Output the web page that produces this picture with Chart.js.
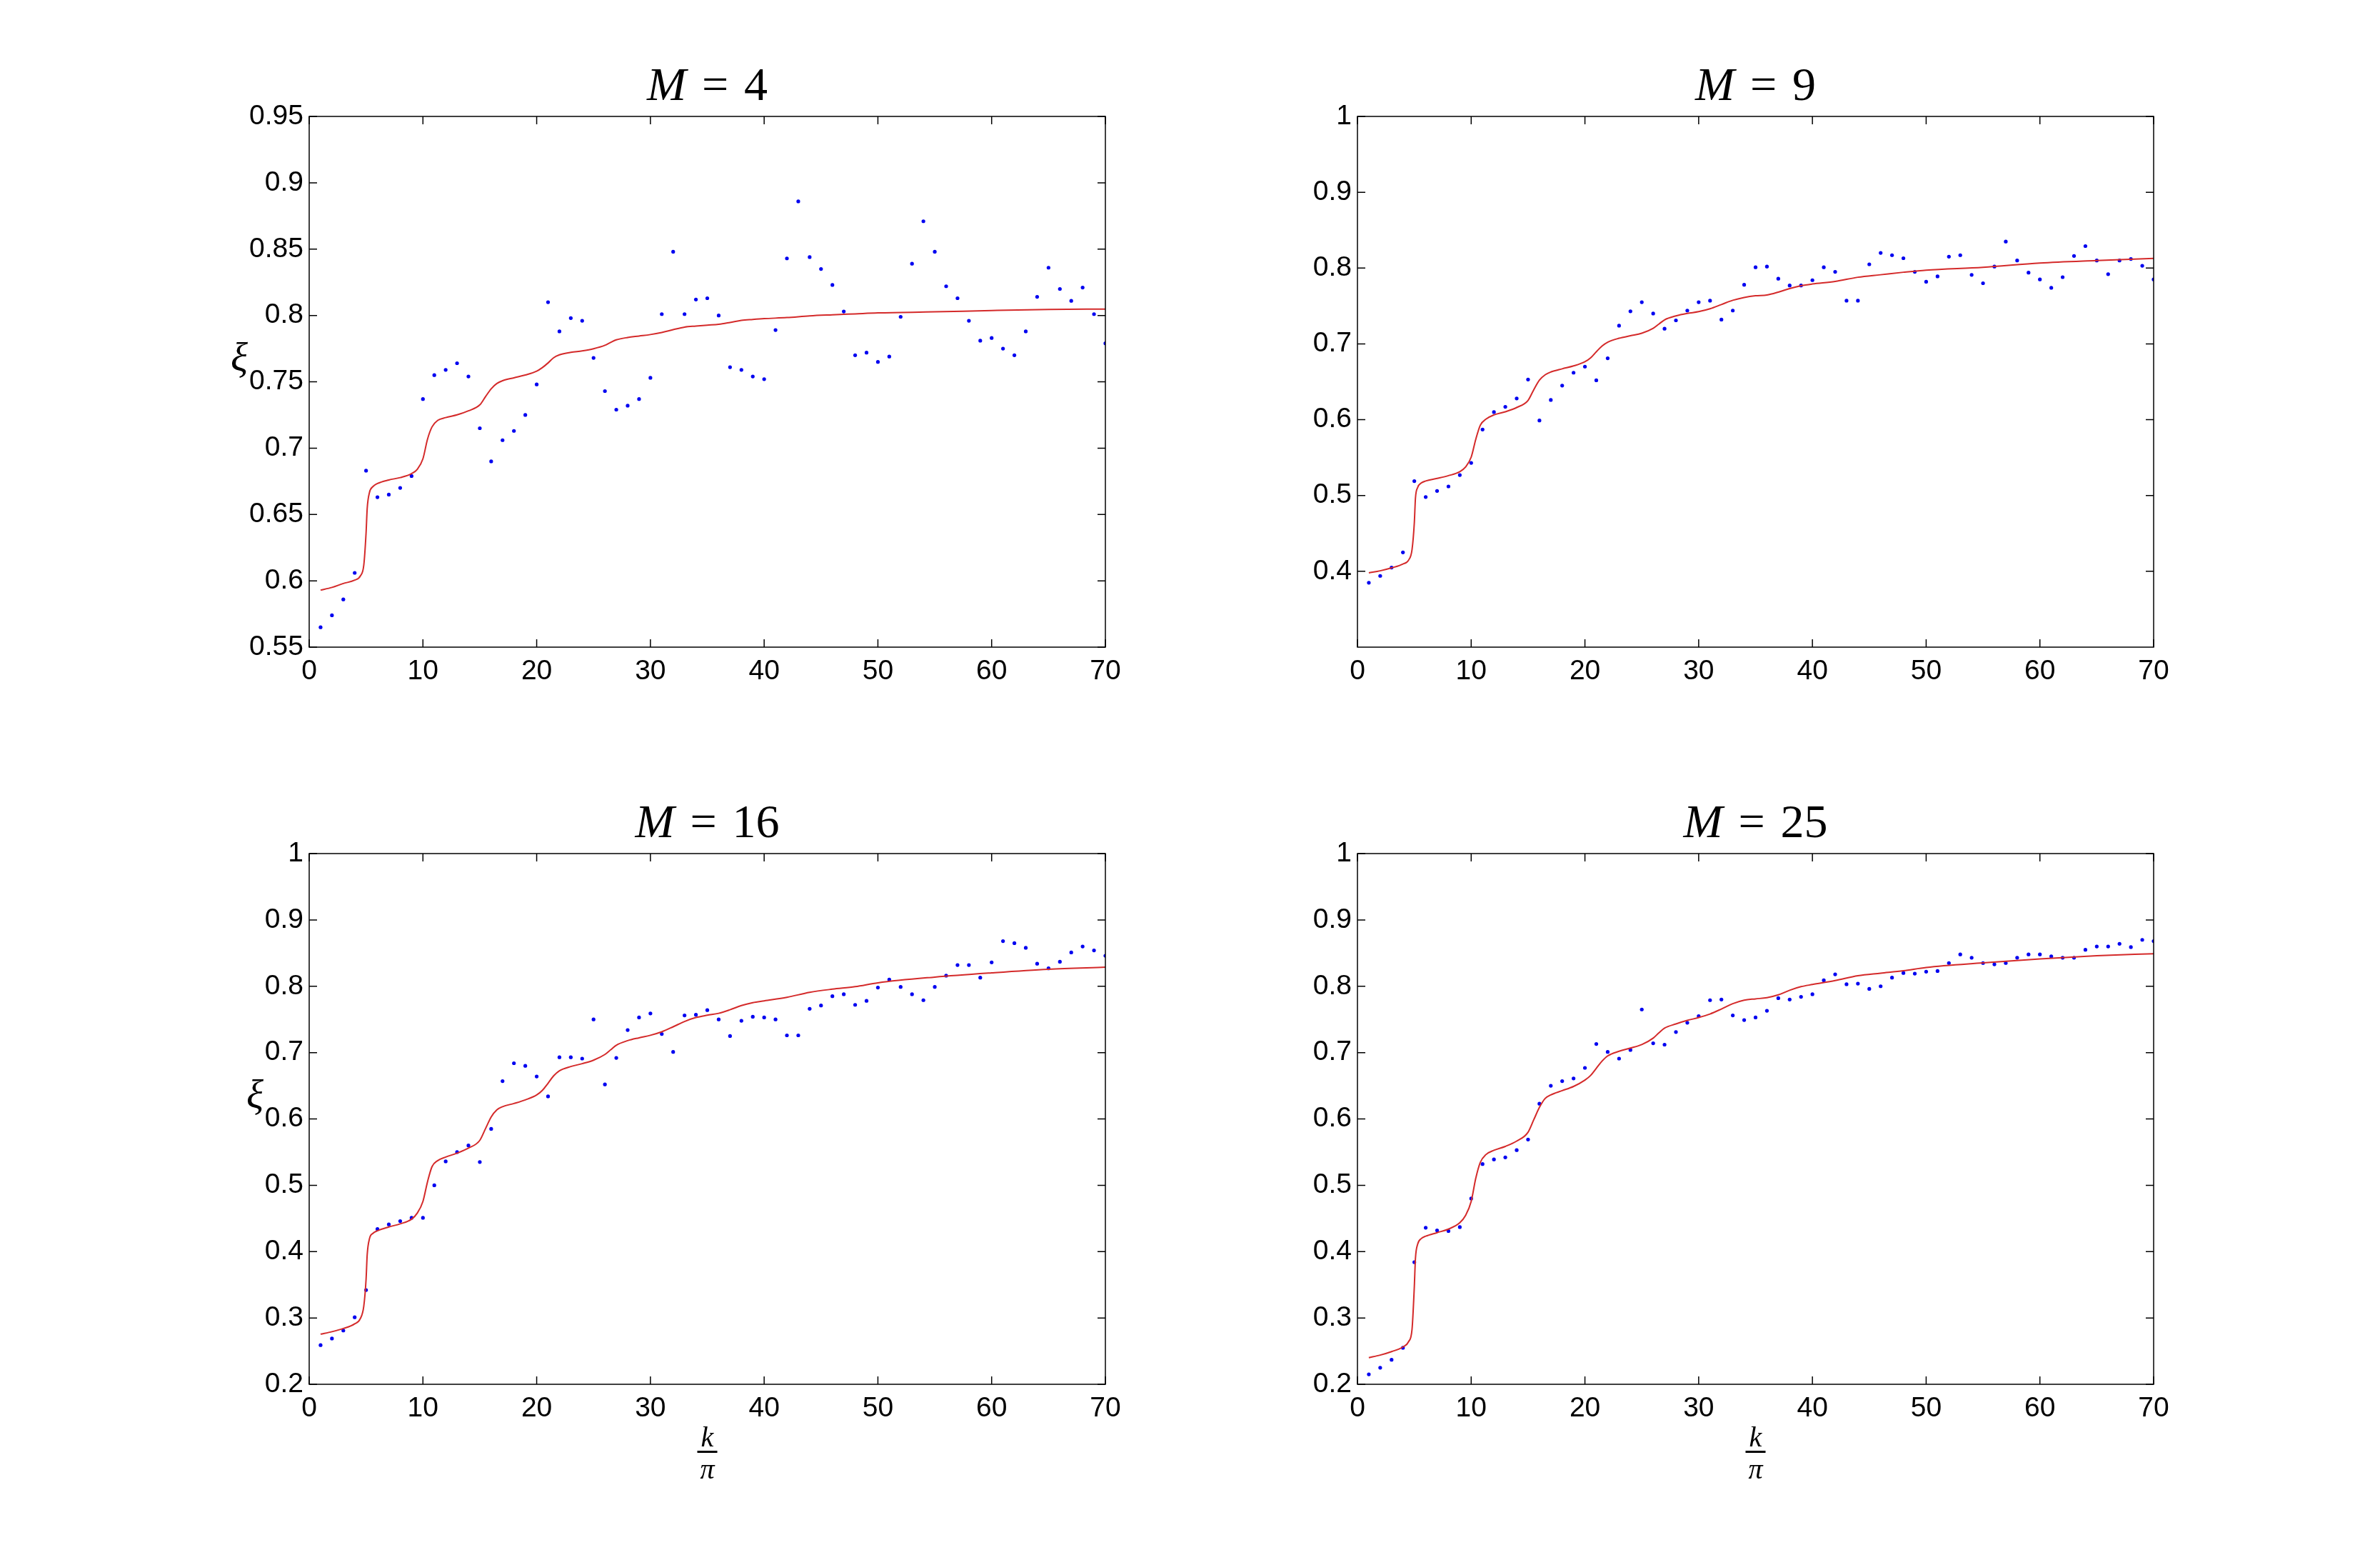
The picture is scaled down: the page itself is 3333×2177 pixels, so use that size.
<!DOCTYPE html>
<html lang="pt-BR">
<head>
<meta charset="utf-8">
<title>ξ em função de k/π</title>
<script src="https://cdn.jsdelivr.net/npm/chart.js@4.4.1/dist/chart.umd.min.js"></script>
<style>
  html, body { margin: 0; padding: 0; background: #fff; }
  body { width: 3333px; height: 2177px; position: relative; overflow: hidden; }
  canvas { position: absolute; }
</style>
</head>
<body>
<canvas id="grafico-m4"></canvas>
<canvas id="grafico-m9"></canvas>
<canvas id="grafico-m16"></canvas>
<canvas id="grafico-m25"></canvas>
<script>
// =====================================================
// DADOS — PONTOS (k/π = 1..70)
// =====================================================
const kPontos = [
  1, 2, 3, 4, 5, 6, 7, 8, 9, 10, 11, 12, 13, 14, 15, 16, 17, 18, 19, 20,
  21, 22, 23, 24, 25, 26, 27, 28, 29, 30, 31, 32, 33, 34, 35, 36, 37, 38, 39, 40,
  41, 42, 43, 44, 45, 46, 47, 48, 49, 50, 51, 52, 53, 54, 55, 56, 57, 58, 59, 60,
  61, 62, 63, 64, 65, 66, 67, 68, 69, 70
];

const xiM4 = [
  0.565, 0.574, 0.586, 0.606, 0.683, 0.663, 0.665, 0.670, 0.679, 0.737,
  0.755, 0.759, 0.764, 0.754, 0.715, 0.690, 0.706, 0.713, 0.725, 0.748,
  0.810, 0.788, 0.798, 0.796, 0.768, 0.743, 0.729, 0.732, 0.737, 0.753,
  0.801, 0.848, 0.801, 0.812, 0.813, 0.800, 0.761, 0.759, 0.754, 0.752,
  0.789, 0.843, 0.886, 0.844, 0.835, 0.823, 0.803, 0.770, 0.772, 0.765,
  0.769, 0.799, 0.839, 0.871, 0.848, 0.822, 0.813, 0.796, 0.781, 0.783,
  0.775, 0.770, 0.788, 0.814, 0.836, 0.820, 0.811, 0.821, 0.801, 0.779
];

const xiM9 = [
  0.385, 0.394, 0.405, 0.425, 0.519, 0.498, 0.506, 0.512, 0.527, 0.543,
  0.587, 0.610, 0.617, 0.628, 0.653, 0.599, 0.626, 0.645, 0.662, 0.670,
  0.652, 0.681, 0.724, 0.743, 0.755, 0.740, 0.720, 0.731, 0.744, 0.755,
  0.757, 0.732, 0.744, 0.778, 0.801, 0.802, 0.786, 0.777, 0.777, 0.784,
  0.801, 0.795, 0.757, 0.757, 0.805, 0.820, 0.817, 0.813, 0.795, 0.782,
  0.789, 0.815, 0.817, 0.791, 0.780, 0.802, 0.835, 0.810, 0.794, 0.785,
  0.774, 0.788, 0.816, 0.829, 0.810, 0.792, 0.810, 0.812, 0.803, 0.785
];

const xiM16 = [
  0.259, 0.269, 0.281, 0.301, 0.342, 0.434, 0.441, 0.446, 0.451, 0.451,
  0.500, 0.536, 0.550, 0.560, 0.535, 0.585, 0.657, 0.684, 0.680, 0.664,
  0.634, 0.693, 0.693, 0.691, 0.750, 0.652, 0.692, 0.734, 0.753, 0.759,
  0.728, 0.701, 0.756, 0.757, 0.764, 0.750, 0.725, 0.748, 0.754, 0.753,
  0.750, 0.726, 0.726, 0.766, 0.771, 0.785, 0.788, 0.772, 0.778, 0.798,
  0.810, 0.799, 0.788, 0.779, 0.799, 0.816, 0.832, 0.832, 0.813, 0.836,
  0.868, 0.865, 0.858, 0.834, 0.827, 0.837, 0.851, 0.860, 0.854, 0.846
];

const xiM25 = [
  0.215, 0.225, 0.237, 0.255, 0.384, 0.436, 0.432, 0.431, 0.437, 0.480,
  0.532, 0.539, 0.542, 0.553, 0.569, 0.623, 0.650, 0.657, 0.661, 0.677,
  0.713, 0.701, 0.691, 0.704, 0.765, 0.714, 0.712, 0.731, 0.745, 0.755,
  0.779, 0.780, 0.756, 0.749, 0.753, 0.763, 0.782, 0.780, 0.784, 0.788,
  0.809, 0.818, 0.803, 0.804, 0.796, 0.800, 0.813, 0.820, 0.819, 0.822,
  0.823, 0.835, 0.848, 0.843, 0.835, 0.833, 0.835, 0.843, 0.848, 0.848,
  0.845, 0.843, 0.843, 0.855, 0.860, 0.860, 0.864, 0.859, 0.870, 0.868
];

// =====================================================
// DADOS — CURVA VERMELHA
// =====================================================
const curvaK = [
  1, 2, 3, 4, 4.5, 4.8, 5, 5.1, 5.3, 5.6, 6, 7, 8, 9, 9.5, 10, 10.4, 10.8, 11.3,
  12, 13, 14, 15, 15.5, 16, 16.5, 17, 18, 19, 20, 20.5, 21, 21.5, 22, 23, 24, 25,
  26, 26.5, 27, 28, 29, 30, 31, 32, 33, 34, 35, 36, 37, 38, 39, 40, 42, 44, 46,
  48, 50, 55, 60, 65, 70
];

const curvaM4 = [
  0.593, 0.595, 0.598, 0.6005, 0.6037, 0.6118, 0.636, 0.6545, 0.6666, 0.671,
  0.6733, 0.676, 0.6778, 0.6808, 0.684, 0.692, 0.7067, 0.716, 0.7209,
  0.723, 0.7251, 0.7281, 0.7326, 0.7388, 0.7447, 0.7487, 0.7508, 0.753, 0.7551,
  0.758, 0.7607, 0.7642, 0.7682, 0.7703, 0.7722, 0.7733, 0.7749,
  0.7775, 0.7797, 0.7816, 0.7834, 0.7845, 0.7856, 0.7872, 0.7893, 0.7912, 0.792,
  0.7927, 0.7933, 0.7947, 0.7963, 0.797, 0.7976, 0.7984, 0.7997, 0.8005,
  0.8012, 0.8019, 0.8027, 0.8037, 0.8045, 0.8048
];

const curvaM9 = [
  0.398, 0.4007, 0.4045, 0.4097, 0.4148, 0.4288, 0.464, 0.4967, 0.5108, 0.5164,
  0.5192, 0.5225, 0.5262, 0.5314, 0.5375, 0.5506, 0.574, 0.5927, 0.6007,
  0.6063, 0.6105, 0.6161, 0.6255, 0.6395, 0.6522, 0.6592, 0.6629, 0.6671, 0.6709,
  0.6765, 0.6816, 0.6896, 0.6971, 0.7022, 0.7074, 0.7107, 0.714,
  0.7205, 0.7261, 0.7317, 0.7369, 0.7402, 0.7425, 0.7463, 0.7519, 0.7575, 0.7612,
  0.7635, 0.7645, 0.7683, 0.773, 0.7767, 0.779, 0.7823, 0.7879, 0.7912,
  0.7945, 0.7973, 0.801, 0.8066, 0.8099, 0.8127
];

const curvaM16 = [
  0.2756, 0.2793, 0.2841, 0.2911, 0.2991, 0.3178, 0.358, 0.3954, 0.4195, 0.4275,
  0.4313, 0.4371, 0.4419, 0.4489, 0.458, 0.4757, 0.5051, 0.5281, 0.5372,
  0.5425, 0.5484, 0.5559, 0.5677, 0.5853, 0.603, 0.6137, 0.6185, 0.6233, 0.6287,
  0.6362, 0.6431, 0.6538, 0.6651, 0.6726, 0.679, 0.6833, 0.6886,
  0.6972, 0.7041, 0.7111, 0.718, 0.7223, 0.7261, 0.7314, 0.7389, 0.7469, 0.7528,
  0.7563, 0.7592, 0.7646, 0.771, 0.7753, 0.778, 0.7833, 0.7908, 0.7956,
  0.7994, 0.8052, 0.8138, 0.8202, 0.8256, 0.8288
];

const curvaM25 = [
  0.2402, 0.244, 0.2493, 0.2563, 0.2643, 0.283, 0.3473, 0.39, 0.4115, 0.4195,
  0.4232, 0.4286, 0.4339, 0.4435, 0.4543, 0.4757, 0.5104, 0.5345, 0.5463,
  0.5527, 0.5586, 0.5666, 0.58, 0.5987, 0.6174, 0.6308, 0.6362, 0.6426, 0.649,
  0.6586, 0.6656, 0.6763, 0.687, 0.695, 0.702, 0.7068, 0.7121,
  0.7218, 0.7298, 0.7368, 0.7432, 0.7485, 0.7528, 0.7582, 0.7657, 0.7737, 0.779,
  0.781, 0.7828, 0.787, 0.794, 0.7994, 0.8026, 0.8085, 0.8159, 0.8197,
  0.8234, 0.8283, 0.8352, 0.8411, 0.8459, 0.8491
];

// =====================================================
// DADOS — TICKS
// =====================================================
const xTicks = [0, 10, 20, 30, 40, 50, 60, 70];
const yTicksM4 = [0.55, 0.6, 0.65, 0.7, 0.75, 0.8, 0.85, 0.9, 0.95];
const yTicksM9 = [0.4, 0.5, 0.6, 0.7, 0.8, 0.9, 1];
const yTicksM16 = [0.2, 0.3, 0.4, 0.5, 0.6, 0.7, 0.8, 0.9, 1];
const yTicksM25 = [0.2, 0.3, 0.4, 0.5, 0.6, 0.7, 0.8, 0.9, 1];

// =====================================================
// LAYOUT
// =====================================================
const PAD = { esq: 200, topo: 100, dir: 40, base: 150 };
const LARGURA = 1115;
const ALTURA = 743;
const TICK = 11;
const FONTE_TICK = { family: "Liberation Sans", size: 39 };

const paineis = [
  { id: "grafico-m4",  m: "4",  x0: 433,  y0: 163,  min: 0.55, max: 0.95, ticks: yTicksM4,  pontos: xiM4,  curva: curvaM4,  xi: 98,   fracao: false },
  { id: "grafico-m9",  m: "9",  x0: 1901, y0: 163,  min: 0.3,  max: 1,    ticks: yTicksM9,  pontos: xiM9,  curva: curvaM9,  xi: null, fracao: false },
  { id: "grafico-m16", m: "16", x0: 433,  y0: 1195, min: 0.2,  max: 1,    ticks: yTicksM16, pontos: xiM16, curva: curvaM16, xi: 76,   fracao: true },
  { id: "grafico-m25", m: "25", x0: 1901, y0: 1195, min: 0.2,  max: 1,    ticks: yTicksM25, pontos: xiM25, curva: curvaM25, xi: null, fracao: true }
];

// =====================================================
// PLUGINS — MOLDURA E RÓTULOS
// =====================================================
const pluginMoldura = {
  id: "moldura",
  afterDatasetsDraw(chart) {
    const { ctx, chartArea: a } = chart;
    const x = chart.scales.x;
    const y = chart.scales.y;

    ctx.save();
    ctx.strokeStyle = "#000";
    ctx.lineWidth = 1.5;
    ctx.beginPath();

    // ticks para dentro, nos quatro lados
    x.ticks.forEach(t => {
      const px = x.getPixelForValue(t.value);
      ctx.moveTo(px, a.bottom);
      ctx.lineTo(px, a.bottom - TICK);
      ctx.moveTo(px, a.top);
      ctx.lineTo(px, a.top + TICK);
    });
    y.ticks.forEach(t => {
      const py = y.getPixelForValue(t.value);
      ctx.moveTo(a.left, py);
      ctx.lineTo(a.left + TICK, py);
      ctx.moveTo(a.right, py);
      ctx.lineTo(a.right - TICK, py);
    });
    ctx.stroke();

    ctx.strokeRect(a.left, a.top, a.right - a.left, a.bottom - a.top);
    ctx.restore();
  }
};

const pluginRotulos = {
  id: "rotulos",
  afterDraw(chart, args, opts) {
    const { ctx, chartArea: a } = chart;
    const cx = (a.left + a.right) / 2;

    ctx.save();
    ctx.fillStyle = "#000";
    ctx.textBaseline = "alphabetic";

    // título: M = n
    const fonteIt = 'italic 66px "Liberation Serif"';
    const fonteReta = '66px "Liberation Serif"';
    const espaco = 22;
    ctx.font = fonteIt;
    const wM = ctx.measureText("M").width;
    ctx.font = fonteReta;
    const wIgual = ctx.measureText("=").width;
    const wNum = ctx.measureText(opts.m).width;
    let xx = cx - (wM + espaco + wIgual + espaco + wNum) / 2;
    const baseTitulo = a.top - 23;

    ctx.textAlign = "left";
    ctx.font = fonteIt;
    ctx.fillText("M", xx, baseTitulo);
    xx += wM + espaco;
    ctx.font = fonteReta;
    ctx.fillText("=", xx, baseTitulo);
    xx += wIgual + espaco;
    ctx.fillText(opts.m, xx, baseTitulo);

    // rótulo do eixo y
    if (opts.xi) {
      ctx.font = 'italic 56px "Liberation Serif"';
      ctx.textAlign = "center";
      ctx.fillText("ξ", a.left - opts.xi, a.top + 356);
    }

    // rótulo do eixo x: fração k/π
    if (opts.fracao) {
      ctx.font = 'italic 40px "Liberation Serif"';
      ctx.textAlign = "center";
      ctx.fillText("k", cx, a.bottom + 87);
      ctx.fillRect(cx - 14, a.bottom + 93, 28, 3);
      ctx.fillText("π", cx, a.bottom + 132);
    }
    ctx.restore();
  }
};

// =====================================================
// MONTAGEM DOS GRÁFICOS
// =====================================================
function montarPainel(p) {
  const canvas = document.getElementById(p.id);
  canvas.width = LARGURA + PAD.esq + PAD.dir;
  canvas.height = ALTURA + PAD.topo + PAD.base;
  canvas.style.left = (p.x0 - PAD.esq) + "px";
  canvas.style.top = (p.y0 - PAD.topo) + "px";

  const linha = curvaK.map((k, i) => ({ x: k, y: p.curva[i] }));
  const pontos = kPontos.map((k, i) => ({ x: k, y: p.pontos[i] }));

  return new Chart(canvas, {
    type: "scatter",
    data: {
      datasets: [
        {
          label: "ajuste",
          data: linha,
          showLine: true,
          borderColor: "#d42a2a",
          borderWidth: 2,
          pointRadius: 0,
          cubicInterpolationMode: "monotone",
          fill: false
        },
        {
          label: "ξ",
          data: pontos,
          showLine: false,
          pointRadius: 2.6,
          pointBorderWidth: 0,
          backgroundColor: "#0000f0",
          borderColor: "#0000f0"
        }
      ]
    },
    options: {
      responsive: false,
      animation: false,
      devicePixelRatio: 1,
      layout: { padding: { top: PAD.topo, right: PAD.dir, left: 0, bottom: 0 } },
      plugins: {
        legend: { display: false },
        tooltip: { enabled: false },
        rotulos: { m: p.m, xi: p.xi, fracao: p.fracao }
      },
      scales: {
        x: {
          type: "linear",
          min: 0,
          max: 70,
          afterBuildTicks: s => { s.ticks = xTicks.map(v => ({ value: v })); },
          afterFit: s => { s.height = PAD.base; },
          ticks: {
            color: "#000",
            font: FONTE_TICK,
            padding: 11,
            maxRotation: 0,
            autoSkip: false,
            callback: v => String(v)
          },
          grid: { display: false, drawTicks: false },
          border: { display: false }
        },
        y: {
          type: "linear",
          min: p.min,
          max: p.max,
          afterBuildTicks: s => { s.ticks = p.ticks.map(v => ({ value: v })); },
          afterFit: s => { s.width = PAD.esq; },
          ticks: {
            color: "#000",
            font: FONTE_TICK,
            padding: 8,
            autoSkip: false,
            callback: v => String(v)
          },
          grid: { display: false, drawTicks: false },
          border: { display: false }
        }
      }
    },
    plugins: [pluginMoldura, pluginRotulos]
  });
}

paineis.forEach(montarPainel);
</script>
</body>
</html>
